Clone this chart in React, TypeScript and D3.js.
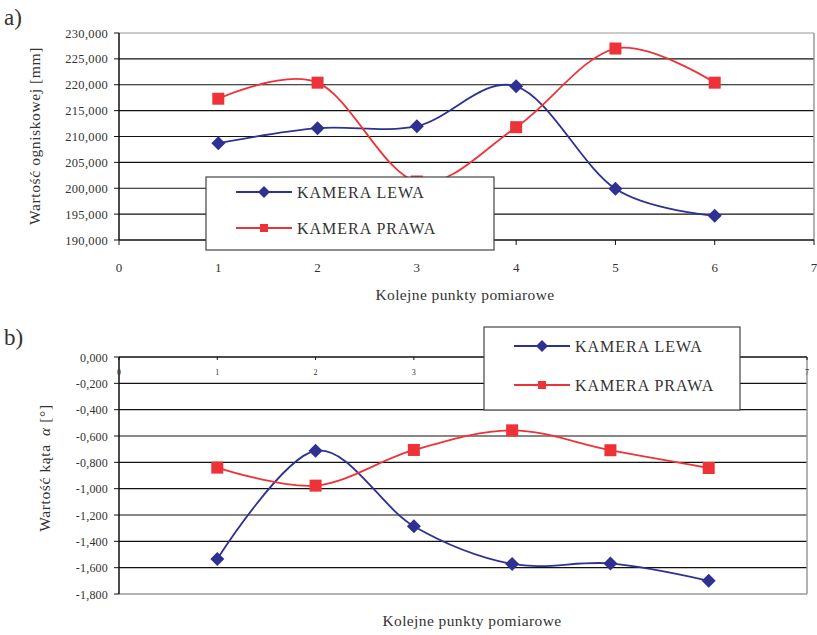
import React from "react";
import * as d3 from "d3";

const xPoints = [1, 2, 3, 4, 5, 6];
const seriesNames = ["KAMERA LEWA", "KAMERA PRAWA"];

// chart a) focal length [mm]
const focalLewa = [208700, 211600, 212000, 219700, 199900, 194700];
const focalPrawa = [217300, 220400, 201300, 211800, 227000, 220400];
const focalTicks = [190000, 195000, 200000, 205000, 210000, 215000, 220000, 225000, 230000];

// chart b) angle alpha [deg]
const alphaLewa = [-1.535, -0.712, -1.285, -1.572, -1.568, -1.7];
const alphaPrawa = [-0.84, -0.977, -0.706, -0.557, -0.708, -0.843];
const alphaTicks = [0, -0.2, -0.4, -0.6, -0.8, -1.0, -1.2, -1.4, -1.6, -1.8];

const xTicks = [0, 1, 2, 3, 4, 5, 6, 7];

const BLUE = "#2E3192";
const RED = "#EE3338";
const FONT = "'Liberation Serif', 'DejaVu Serif', serif";
const TXT = "#333";

function Diamond({ cx, cy, r, color }: { cx: number; cy: number; r: number; color: string }) {
  return (
    <path
      d={`M${cx},${cy - r}L${cx + r},${cy}L${cx},${cy + r}L${cx - r},${cy}Z`}
      fill={color}
    />
  );
}
function Square({ cx, cy, s, color }: { cx: number; cy: number; s: number; color: string }) {
  return <rect x={cx - s / 2} y={cy - s / 2} width={s} height={s} fill={color} />;
}

function Legend({ x, y, w, h, rowY }: { x: number; y: number; w: number; h: number; rowY: number[] }) {
  return (
    <g>
      <rect x={x} y={y} width={w} height={h} fill="#fff" stroke="#444" strokeWidth={1.2} />
      {seriesNames.map((name, i) => {
        const cy = rowY[i];
        const color = i === 0 ? BLUE : RED;
        const lx1 = x + 30;
        const lx2 = x + 86;
        const mx = (lx1 + lx2) / 2;
        return (
          <g key={name}>
            <line x1={lx1} x2={lx2} y1={cy} y2={cy} stroke={color} strokeWidth={1.8} />
            {i === 0 ? (
              <Diamond cx={mx} cy={cy} r={6} color={color} />
            ) : (
              <Square cx={mx} cy={cy} s={8} color={color} />
            )}
            <text
              x={lx2 + 5}
              y={cy + 6}
              fontSize={16}
              letterSpacing={1}
              fill={TXT}
              fontFamily={FONT}
            >
              {name}
            </text>
          </g>
        );
      })}
    </g>
  );
}

function ChartA() {
  const x = d3.scaleLinear().domain([0, 7]).range([119, 814]);
  const y = d3.scaleLinear().domain([190000, 230000]).range([240, 33]);
  const line = d3
    .line<number>()
    .x((_, i) => x(xPoints[i]))
    .y((d) => y(d))
    .curve(d3.curveCardinal.tension(0));
  const fmt = d3.format(",.0f");
  const [x0, x1] = x.range();
  const [yb, yt] = y.range();
  return (
    <g>
      <text x={4} y={25} fontSize={23} fill={TXT} fontFamily={FONT}>a)</text>
      {focalTicks.map((t) => (
        <g key={t}>
          {t !== 190000 && (
            <line x1={x0} x2={x1} y1={y(t)} y2={y(t)} stroke={t === 230000 ? "#999" : "#111"} strokeWidth={1.1} />
          )}
          <line x1={x0 - 5} x2={x0} y1={y(t)} y2={y(t)} stroke="#111" />
          <text x={108} y={y(t) + 4.5} fontSize={12.5} textAnchor="end" fill={TXT} fontFamily={FONT} letterSpacing={0.3}>
            {fmt(t)}
          </text>
        </g>
      ))}
      <line x1={x1} x2={x1} y1={yt} y2={yb} stroke="#999" strokeWidth={1.5} />
      <line x1={x0} x2={x0} y1={yt} y2={yb} stroke="#111" strokeWidth={1.5} />
      <line x1={x0} x2={x1} y1={yb} y2={yb} stroke="#111" strokeWidth={1.5} />
      {xTicks.map((t) => (
        <g key={t}>
          <line x1={x(t)} x2={x(t)} y1={yb} y2={yb + 5} stroke="#111" />
          <text x={x(t)} y={272} fontSize={13} textAnchor="middle" fill={TXT} fontFamily={FONT}>
            {t}
          </text>
        </g>
      ))}
      <path d={line(focalLewa) || ""} fill="none" stroke={BLUE} strokeWidth={1.8} />
      <path d={line(focalPrawa) || ""} fill="none" stroke={RED} strokeWidth={1.8} />
      {focalLewa.map((v, i) => (
        <Diamond key={"l" + i} cx={x(xPoints[i])} cy={y(v)} r={7} color={BLUE} />
      ))}
      {focalPrawa.map((v, i) => (
        <Square key={"p" + i} cx={x(xPoints[i])} cy={y(v)} s={12} color={RED} />
      ))}
      <Legend x={206} y={177} w={288} h={73} rowY={[192, 228]} />
      <text
        transform={`translate(40,136) rotate(-90)`}
        fontSize={15.5}
        textAnchor="middle"
        fill={TXT}
        fontFamily={FONT}
        letterSpacing={0.6}
      >
        Wartość ogniskowej [mm]
      </text>
      <text x={465} y={300} fontSize={15.5} textAnchor="middle" fill={TXT} fontFamily={FONT} letterSpacing={0.4}>
        Kolejne punkty pomiarowe
      </text>
    </g>
  );
}

function ChartB() {
  const x = d3.scaleLinear().domain([0, 7]).range([119, 807]);
  const y = d3.scaleLinear().domain([-1.8, 0]).range([594, 357]);
  const line = d3
    .line<number>()
    .x((_, i) => x(xPoints[i]))
    .y((d) => y(d))
    .curve(d3.curveCardinal.tension(0));
  const fmt = (v: number) => (v === 0 ? "0,000" : v.toFixed(3).replace(".", ","));
  const [x0, x1] = x.range();
  const [yb, yt] = y.range();
  return (
    <g>
      <text x={4} y={345} fontSize={23} fill={TXT} fontFamily={FONT}>b)</text>
      {alphaTicks.map((t) => (
        <g key={t}>
          {t !== 0 && t !== -1.8 && (
            <line x1={x0} x2={x1} y1={y(t)} y2={y(t)} stroke="#111" strokeWidth={1.1} />
          )}
          <line x1={x0 - 5} x2={x0} y1={y(t)} y2={y(t)} stroke="#111" />
          <text x={108} y={y(t) + 4.5} fontSize={12} textAnchor="end" fill={TXT} fontFamily={FONT} letterSpacing={0.2}>
            {fmt(t)}
          </text>
        </g>
      ))}
      <line x1={x0} x2={x1} y1={yb} y2={yb} stroke="#999" strokeWidth={1.5} />
      <line x1={x1} x2={x1} y1={yt} y2={yb} stroke="#999" strokeWidth={1.5} />
      <line x1={x0} x2={x0} y1={yt} y2={yb} stroke="#111" strokeWidth={1.5} />
      <line x1={x0} x2={x1} y1={yt} y2={yt} stroke="#111" strokeWidth={1.5} />
      {xTicks.map((t) => (
        <g key={t}>
          <line x1={x(t)} x2={x(t)} y1={yt} y2={yt + 3} stroke="#111" />
          <text x={x(t)} y={375} fontSize={8} textAnchor="middle" fill={TXT} fontFamily={FONT}>
            {t}
          </text>
        </g>
      ))}
      <path d={line(alphaLewa) || ""} fill="none" stroke={BLUE} strokeWidth={1.8} />
      <path d={line(alphaPrawa) || ""} fill="none" stroke={RED} strokeWidth={1.8} />
      {alphaLewa.map((v, i) => (
        <Diamond key={"l" + i} cx={x(xPoints[i])} cy={y(v)} r={7} color={BLUE} />
      ))}
      {alphaPrawa.map((v, i) => (
        <Square key={"p" + i} cx={x(xPoints[i])} cy={y(v)} s={12} color={RED} />
      ))}
      <Legend x={484} y={327} w={256} h={83} rowY={[346, 385]} />
      <text
        transform={`translate(50,468) rotate(-90)`}
        fontSize={15.5}
        textAnchor="middle"
        fill={TXT}
        fontFamily={FONT}
        letterSpacing={0.6}
      >
        Wartość kąta <tspan fontStyle="italic" dx={4}>α</tspan> [°]
      </text>
      <text x={472} y={626} fontSize={15.5} textAnchor="middle" fill={TXT} fontFamily={FONT} letterSpacing={0.4}>
        Kolejne punkty pomiarowe
      </text>
    </g>
  );
}

export default function App() {
  return (
    <svg
      width={817}
      height={635}
      style={{ position: "absolute", left: 0, top: 0, background: "#fff" }}
    >
      <rect width={817} height={635} fill="#fff" />
      <ChartA />
      <ChartB />
    </svg>
  );
}
